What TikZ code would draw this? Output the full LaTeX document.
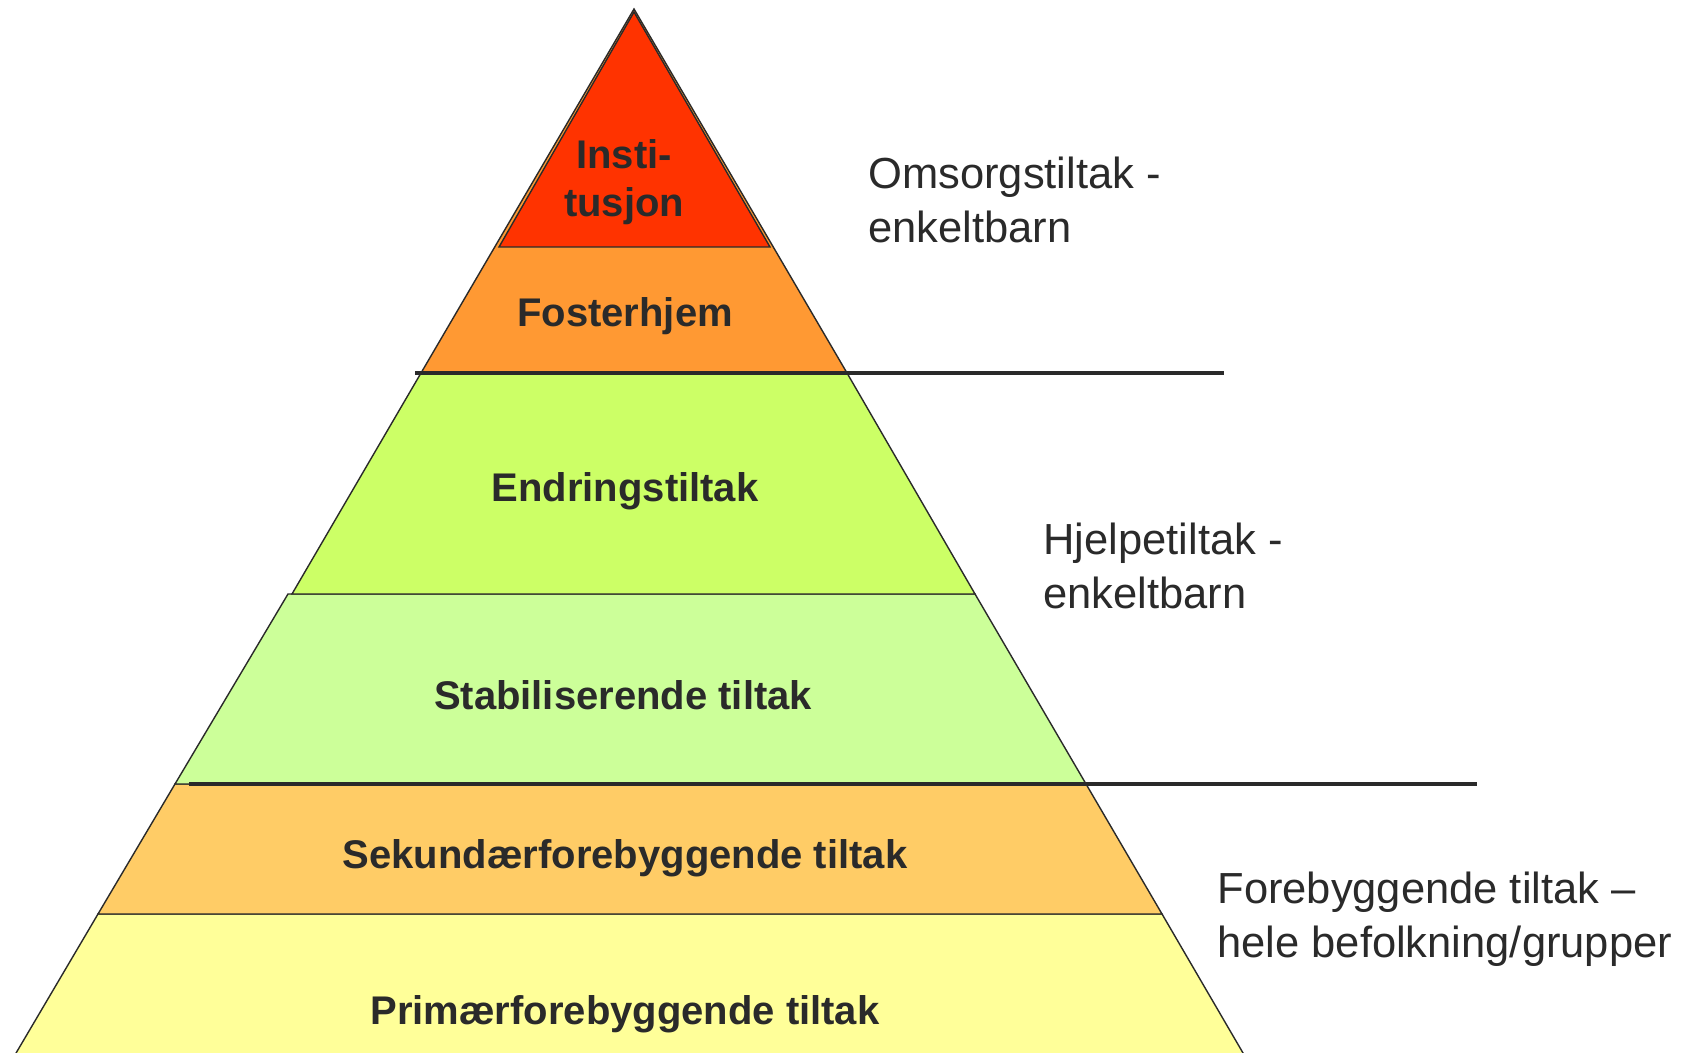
\documentclass[tikz,border=0pt]{standalone}
\usepackage{fontspec}
\setmainfont{Liberation Sans}
\definecolor{ink}{HTML}{2A2A2A}
\definecolor{instred}{HTML}{FF3300}
\definecolor{fosterorange}{HTML}{FF9933}
\definecolor{endrgreen}{HTML}{CCFF66}
\definecolor{stabgreen}{HTML}{CCFF99}
\definecolor{sekorange}{HTML}{FFCC66}
\definecolor{primyellow}{HTML}{FFFF99}
\tikzset{
  band/.style={draw=ink, line width=0.7pt, line join=miter},
  divider/.style={draw=ink, line width=2.4pt},
  bandlabel/.style={font=\bfseries\fontsize{20pt}{24pt}\selectfont, text=ink, inner sep=0pt, anchor=base, align=center},
  sidelabel/.style={font=\fontsize{21.75pt}{27pt}\selectfont, text=ink, inner sep=0pt, anchor=base west, align=left}
}
\begin{document}
\begin{tikzpicture}[x=0.5pt, y=-0.5pt]
\clip (0,0) rectangle (1684,1053);
\fill[white] (0,0) rectangle (1684,1053);
% bands
\filldraw[band, fill=primyellow] (98,914) -- (1162,914) -- (1250,1065) -- (9,1065) -- cycle;
\filldraw[band, fill=sekorange] (175,784) -- (1086,784) -- (1162,914) -- (98,914) -- cycle;
\filldraw[band, fill=stabgreen] (288,594) -- (975,594) -- (1086,784) -- (175,784) -- cycle;
\filldraw[band, fill=endrgreen] (421,373) -- (847,373) -- (975,594) -- (292,594) -- cycle;
\filldraw[band, fill=fosterorange] (634,9) -- (847,373) -- (421,373) -- cycle;
\filldraw[band, fill=instred] (634,12) -- (770,247) -- (499,247) -- cycle;
% dividers
\coordinate (d1a) at (415,373);
\coordinate (d1b) at (1224,373);
\coordinate (d2a) at (189,784);
\coordinate (d2b) at (1477,784);
\draw[divider] (d1a) -- (d1b);
\draw[divider] (d2a) -- (d2b);
% band labels
\node[bandlabel] (inst) at (624,217) {Insti-\\tusjon};
\node[bandlabel] (foster) at (625,327) {Fosterhjem};
\node[bandlabel] (endr) at (625,501) {Endringstiltak};
\node[bandlabel] (stab) at (623,709) {Stabiliserende tiltak};
\node[bandlabel] (sek) at (625,868) {Sekundærforebyggende tiltak};
\node[bandlabel] (prim) at (625,1024) {Primærforebyggende tiltak};
% side labels
\node[sidelabel] (omsorg) at (868,243) {Omsorgstiltak -\\enkeltbarn};
\node[sidelabel] (hjelpe) at (1043,608) {Hjelpetiltak -\\enkeltbarn};
\node[sidelabel] (forebygg) at (1217,957) {Forebyggende tiltak –\\hele befolkning/grupper};
\end{tikzpicture}
\end{document}
